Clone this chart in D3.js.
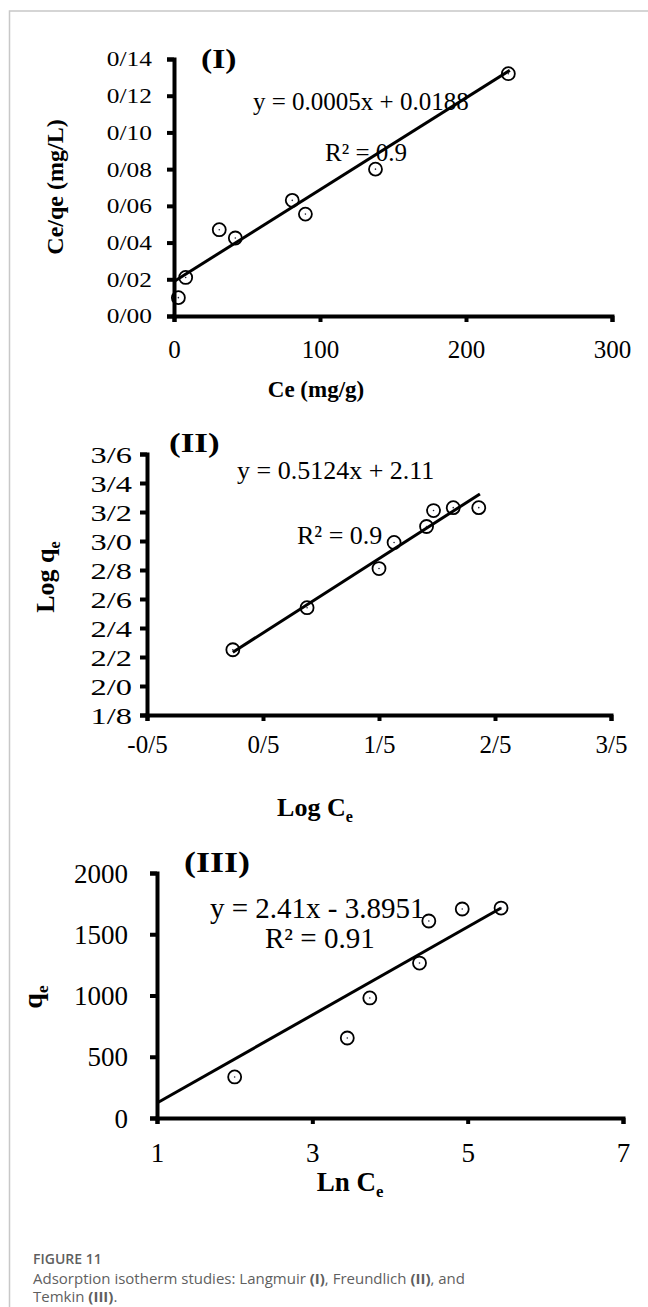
<!DOCTYPE html>
<meta charset="utf-8">
<style>
body { margin: 0; background: #fff; }
svg text { font-family: "Liberation Serif", "Times New Roman", serif; fill: #000; }
.axis .domain, .axis line { stroke: #000; stroke-width: 4px; }
.circ { fill: none; stroke: #000; stroke-width: 1.8px; }
.dot { fill: #223; }
.fit { stroke: #000; stroke-width: 3px; fill: none; }
.cap { font-family: "Open Sans", "Noto Sans", sans-serif; fill: #5f5f5f; }
</style>
<svg width="648" height="1307"></svg>
<script src="https://cdn.jsdelivr.net/npm/d3@7"></script>
<script>

// (I) Langmuir
var ceI    = [3, 8, 31, 42, 81, 90, 138, 229];
var ratioI = [0.010, 0.021, 0.047, 0.0425, 0.063, 0.0555, 0.080, 0.132];
var xTicksI = [0, 100, 200, 300];
var yTicksI = [0, 0.02, 0.04, 0.06, 0.08, 0.10, 0.12, 0.14];
var fitI = {slope: 0.0005, intercept: 0.0188, from: 0, to: 230};

// (II) Freundlich
var logCe = [0.24, 0.88, 1.50, 1.63, 1.91, 1.97, 2.14, 2.36];
var logQe = [2.25, 2.54, 2.81, 2.99, 3.10, 3.21, 3.23, 3.23];
var xTicksII = [-0.5, 0.5, 1.5, 2.5, 3.5];
var yTicksII = [1.8, 2.0, 2.2, 2.4, 2.6, 2.8, 3.0, 3.2, 3.4, 3.6];
var fitII = {slope: 0.5124, intercept: 2.11, from: 0.24, to: 2.37};

// (III) Temkin
var lnCe = [2.0, 3.45, 3.74, 4.38, 4.5, 4.93, 5.43];
var qe   = [335, 653, 980, 1265, 1608, 1706, 1714];
var xTicksIII = [1, 3, 5, 7];
var yTicksIII = [0, 500, 1000, 1500, 2000];
var fitIII = [[1, 122], [5.43, 1714]];

var svg = d3.select("svg");
svg.append("rect").attr("width", 648).attr("height", 1307).attr("fill", "#fff");

// page frame
svg.append("path").attr("d", "M648,11H9.5V1307")
    .attr("fill", "none").attr("stroke", "#c8c8c8").attr("stroke-width", 1.5);

// decimal point shown as a slash, plain hyphen for minus
function slash(f) { return function(d) { return f(d).replace(".", "/").replace("\u2212", "-"); }; }

// scaled text helper (the original labels are stretched sideways)
function txt(g, x, y, s, size, opt) {
  opt = opt || {};
  var sx = opt.sx || 1;
  var t = g.append("text")
      .attr("transform", "translate(" + x + "," + y + ")" + (opt.rot ? " rotate(-90)" : "") + " scale(" + sx + ",1)")
      .attr("text-anchor", opt.anchor || "start")
      .style("font-size", size + "px")
      .style("font-weight", opt.bold ? "bold" : "normal");
  t.append("tspan").text(s);
  if (opt.sub) t.append("tspan").attr("dy", size * 0.22).style("font-size", (size * 0.62) + "px").text(opt.sub);
  return t;
}

function panel(p) {
  var g = svg.append("g");
  var x = d3.scaleLinear().domain(p.xDom).range(p.xRange);
  var y = d3.scaleLinear().domain(p.yDom).range(p.yRange);

  var ya = g.append("g").attr("class", "axis")
      .attr("transform", "translate(" + p.xRange[0] + ",0)")
      .call(d3.axisLeft(y).tickValues(p.yTicks).tickSize(7).tickFormat(p.yFmt));
  ya.selectAll("text").attr("x", null).attr("dy", null)
      .attr("transform", "translate(" + (-p.yPad) + ",0) scale(" + p.ySx + ",1)")
      .attr("y", p.yTickSize * 0.34)
      .style("font-size", p.yTickSize + "px");

  var xa = g.append("g").attr("class", "axis")
      .attr("transform", "translate(0," + p.yRange[0] + ")")
      .call(d3.axisBottom(x).tickValues(p.xTicks).tickSize(6).tickFormat(p.xFmt));
  xa.selectAll("text").attr("dy", null).attr("y", p.xLabY)
      .style("font-size", p.xTickSize + "px");
  g.selectAll(".axis text").attr("fill", "#000");

  // trend line
  g.append("path").attr("class", "fit")
      .attr("d", d3.line().x(function(d) { return x(d[0]); }).y(function(d) { return y(d[1]); })(p.fit));

  // markers
  var pts = p.xs.map(function(v, i) { return [v, p.ys[i]]; });
  g.selectAll(".circ").data(pts).enter().append("circle").attr("class", "circ")
      .attr("cx", function(d) { return x(d[0]); }).attr("cy", function(d) { return y(d[1]); }).attr("r", 6.5);
  g.selectAll(".dot").data(pts).enter().append("circle").attr("class", "dot")
      .attr("cx", function(d) { return x(d[0]); }).attr("cy", function(d) { return y(d[1]); }).attr("r", 0.8);
  return g;
}

function fitLine(f) {
  return [[f.from, f.slope * f.from + f.intercept], [f.to, f.slope * f.to + f.intercept]];
}

// ---- I ----
var g1 = panel({
  xDom: [0, 300], xRange: [174, 612], yDom: [0, 0.14], yRange: [316, 59],
  xTicks: xTicksI, yTicks: yTicksI,
  xFmt: d3.format("d"), yFmt: slash(d3.format(".2f")),
  yPad: 22, ySx: 1.24, yTickSize: 20.5, xTickSize: 25, xLabY: 42,
  fit: fitLine(fitI), xs: ceI, ys: ratioI
});
txt(g1, 201, 68, "(I)", 28, {bold: true, sx: 1.2});
txt(g1, 253, 110, "y = 0.0005x + 0.0188", 25);
txt(g1, 325, 161, "R² = 0.9", 25);
txt(g1, 316, 397, "Ce (mg/g)", 23, {bold: true, anchor: "middle"});
txt(g1, 63, 187, "Ce/qe (mg/L)", 24, {bold: true, anchor: "middle", rot: true});

// ---- II ----
var g2 = panel({
  xDom: [-0.5, 3.5], xRange: [147, 611], yDom: [1.8, 3.6], yRange: [715, 454],
  xTicks: xTicksII, yTicks: yTicksII,
  xFmt: slash(d3.format(".1f")), yFmt: slash(d3.format(".1f")),
  yPad: 15, ySx: 1.35, yTickSize: 24, xTickSize: 25, xLabY: 38,
  fit: fitLine(fitII), xs: logCe, ys: logQe
});
txt(g2, 169, 452, "(II)", 28, {bold: true, sx: 1.25});
txt(g2, 237, 479, "y = 0.5124x + 2.11", 26);
txt(g2, 297, 544, "R² = 0.9", 26);
txt(g2, 315, 816, "Log C", 26, {bold: true, anchor: "middle", sub: "e"});
txt(g2, 54, 577, "Log q", 26, {bold: true, anchor: "middle", rot: true, sub: "e"});

// ---- III ----
var g3 = panel({
  xDom: [1, 7], xRange: [157, 623], yDom: [0, 2000], yRange: [1118, 873],
  xTicks: xTicksIII, yTicks: yTicksIII,
  xFmt: d3.format("d"), yFmt: d3.format("d"),
  yPad: 29, ySx: 1, yTickSize: 27, xTickSize: 27, xLabY: 44,
  fit: fitIII, xs: lnCe, ys: qe
});
txt(g3, 184, 872, "(III)", 30, {bold: true, sx: 1.2});
txt(g3, 210, 918, "y = 2.41x - 3.8951", 29);
txt(g3, 265, 948, "R² = 0.91", 29);
txt(g3, 350, 1191, "Ln C", 27, {bold: true, anchor: "middle", sub: "e"});
txt(g3, 42, 997, "q", 28, {bold: true, anchor: "middle", rot: true, sub: "e"});

// caption
var cap = svg.append("g");
cap.append("text").attr("class", "cap").attr("x", 33).attr("y", 1264)
    .style("font-size", "14px").style("font-weight", 600).text("FIGURE 11");
var l1 = cap.append("text").attr("class", "cap").attr("x", 33).attr("y", 1284).style("font-size", "15px");
[["Adsorption isotherm studies: Langmuir ", 0], ["(I)", 1], [", Freundlich ", 0], ["(II)", 1], [", and", 0]]
  .forEach(function(s) { l1.append("tspan").style("font-weight", s[1] ? 700 : 400).text(s[0]); });
var l2 = cap.append("text").attr("class", "cap").attr("x", 33).attr("y", 1302).style("font-size", "15px");
[["Temkin ", 0], ["(III)", 1], [".", 0]]
  .forEach(function(s) { l2.append("tspan").style("font-weight", s[1] ? 700 : 400).text(s[0]); });

</script>
